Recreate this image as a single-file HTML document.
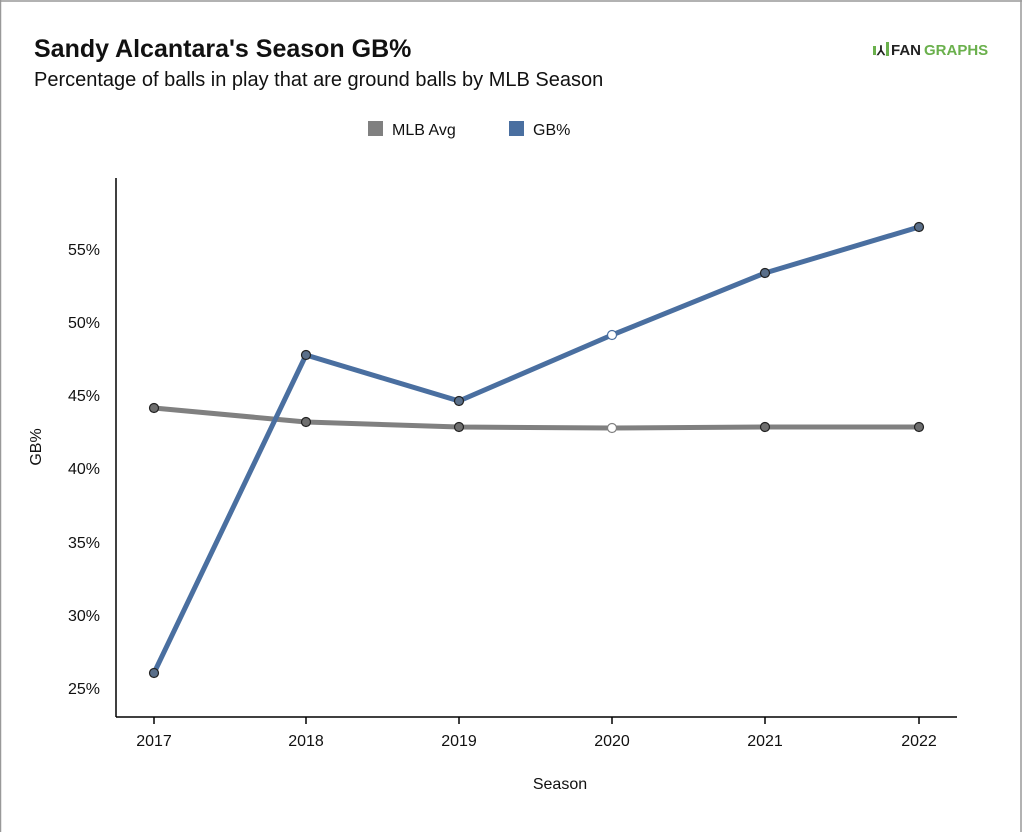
<!DOCTYPE html>
<html><head><meta charset="utf-8"><style>
body{margin:0;background:#fff;}
svg{display:block;font-family:"Liberation Sans",sans-serif;}
</style></head><body>
<svg width="1024" height="832" viewBox="0 0 1024 832">
<rect width="1024" height="832" fill="#fff"/>
<line x1="0" y1="1" x2="1022" y2="1" stroke="#999" stroke-width="1.5"/>
<line x1="1021" y1="0" x2="1021" y2="832" stroke="#999" stroke-width="1.5"/>
<line x1="0.5" y1="0" x2="0.5" y2="832" stroke="#999" stroke-width="1.5"/>
<text x="34" y="57" font-size="25" font-weight="bold" fill="#111">Sandy Alcantara's Season GB%</text>
<text x="34" y="86" font-size="20" fill="#111">Percentage of balls in play that are ground balls by MLB Season</text>
<g>
<rect x="873" y="46" width="3" height="9" fill="#6ab04c"/>
<text x="877" y="55" font-size="13" font-weight="bold" fill="#222">⅄</text>
<rect x="886" y="42" width="3" height="14" fill="#6ab04c"/>
<text x="891" y="55" font-size="15" font-weight="bold" fill="#222">FAN</text><text x="924" y="55" font-size="15" font-weight="bold" fill="#6ab04c">GRAPHS</text>
</g>
<rect x="368" y="121" width="15" height="15" fill="#808080"/>
<text x="392" y="135" font-size="16" fill="#111">MLB Avg</text>
<rect x="509" y="121" width="15" height="15" fill="#4a6fa0"/>
<text x="533" y="135" font-size="16" fill="#111">GB%</text>
<g stroke="#000" stroke-width="1.5" fill="none">
<line x1="116" y1="178" x2="116" y2="717"/>
<line x1="116" y1="717" x2="957" y2="717"/>
<line x1="154" y1="717" x2="154" y2="724"/><line x1="306" y1="717" x2="306" y2="724"/><line x1="459" y1="717" x2="459" y2="724"/><line x1="612" y1="717" x2="612" y2="724"/><line x1="765" y1="717" x2="765" y2="724"/><line x1="919" y1="717" x2="919" y2="724"/>
</g>
<g font-size="16" fill="#111" text-anchor="end">
<text x="100" y="255">55%</text><text x="100" y="328">50%</text><text x="100" y="401">45%</text><text x="100" y="474">40%</text><text x="100" y="548">35%</text><text x="100" y="621">30%</text><text x="100" y="694">25%</text>
</g>
<g font-size="16" fill="#111" text-anchor="middle">
<text x="154" y="746">2017</text><text x="306" y="746">2018</text><text x="459" y="746">2019</text><text x="612" y="746">2020</text><text x="765" y="746">2021</text><text x="919" y="746">2022</text>
<text x="560" y="789">Season</text>
</g>
<text transform="translate(41,447) rotate(-90)" font-size="16" fill="#111" text-anchor="middle">GB%</text>
<polyline points="154,408 306,422 459,427 612,428 765,427 919,427" fill="none" stroke="#808080" stroke-width="5" stroke-linejoin="round"/>
<polyline points="154,673 306,355 459,401 612,335 765,273 919,227" fill="none" stroke="#4a6fa0" stroke-width="5" stroke-linejoin="round"/>
<g stroke="#222" stroke-width="1.2">
<circle cx="154" cy="408" r="4.5" fill="#6e6e6e"/><circle cx="306" cy="422" r="4.5" fill="#6e6e6e"/><circle cx="459" cy="427" r="4.5" fill="#6e6e6e"/><circle cx="612" cy="428" r="4.5" fill="#fff" stroke="#808080"/><circle cx="765" cy="427" r="4.5" fill="#6e6e6e"/><circle cx="919" cy="427" r="4.5" fill="#6e6e6e"/>
<circle cx="154" cy="673" r="4.5" fill="#5a6f8a"/><circle cx="306" cy="355" r="4.5" fill="#5a6f8a"/><circle cx="459" cy="401" r="4.5" fill="#5a6f8a"/><circle cx="612" cy="335" r="4.5" fill="#fff" stroke="#4a6fa0"/><circle cx="765" cy="273" r="4.5" fill="#5a6f8a"/><circle cx="919" cy="227" r="4.5" fill="#5a6f8a"/>
</g>
</svg>
</body></html>
